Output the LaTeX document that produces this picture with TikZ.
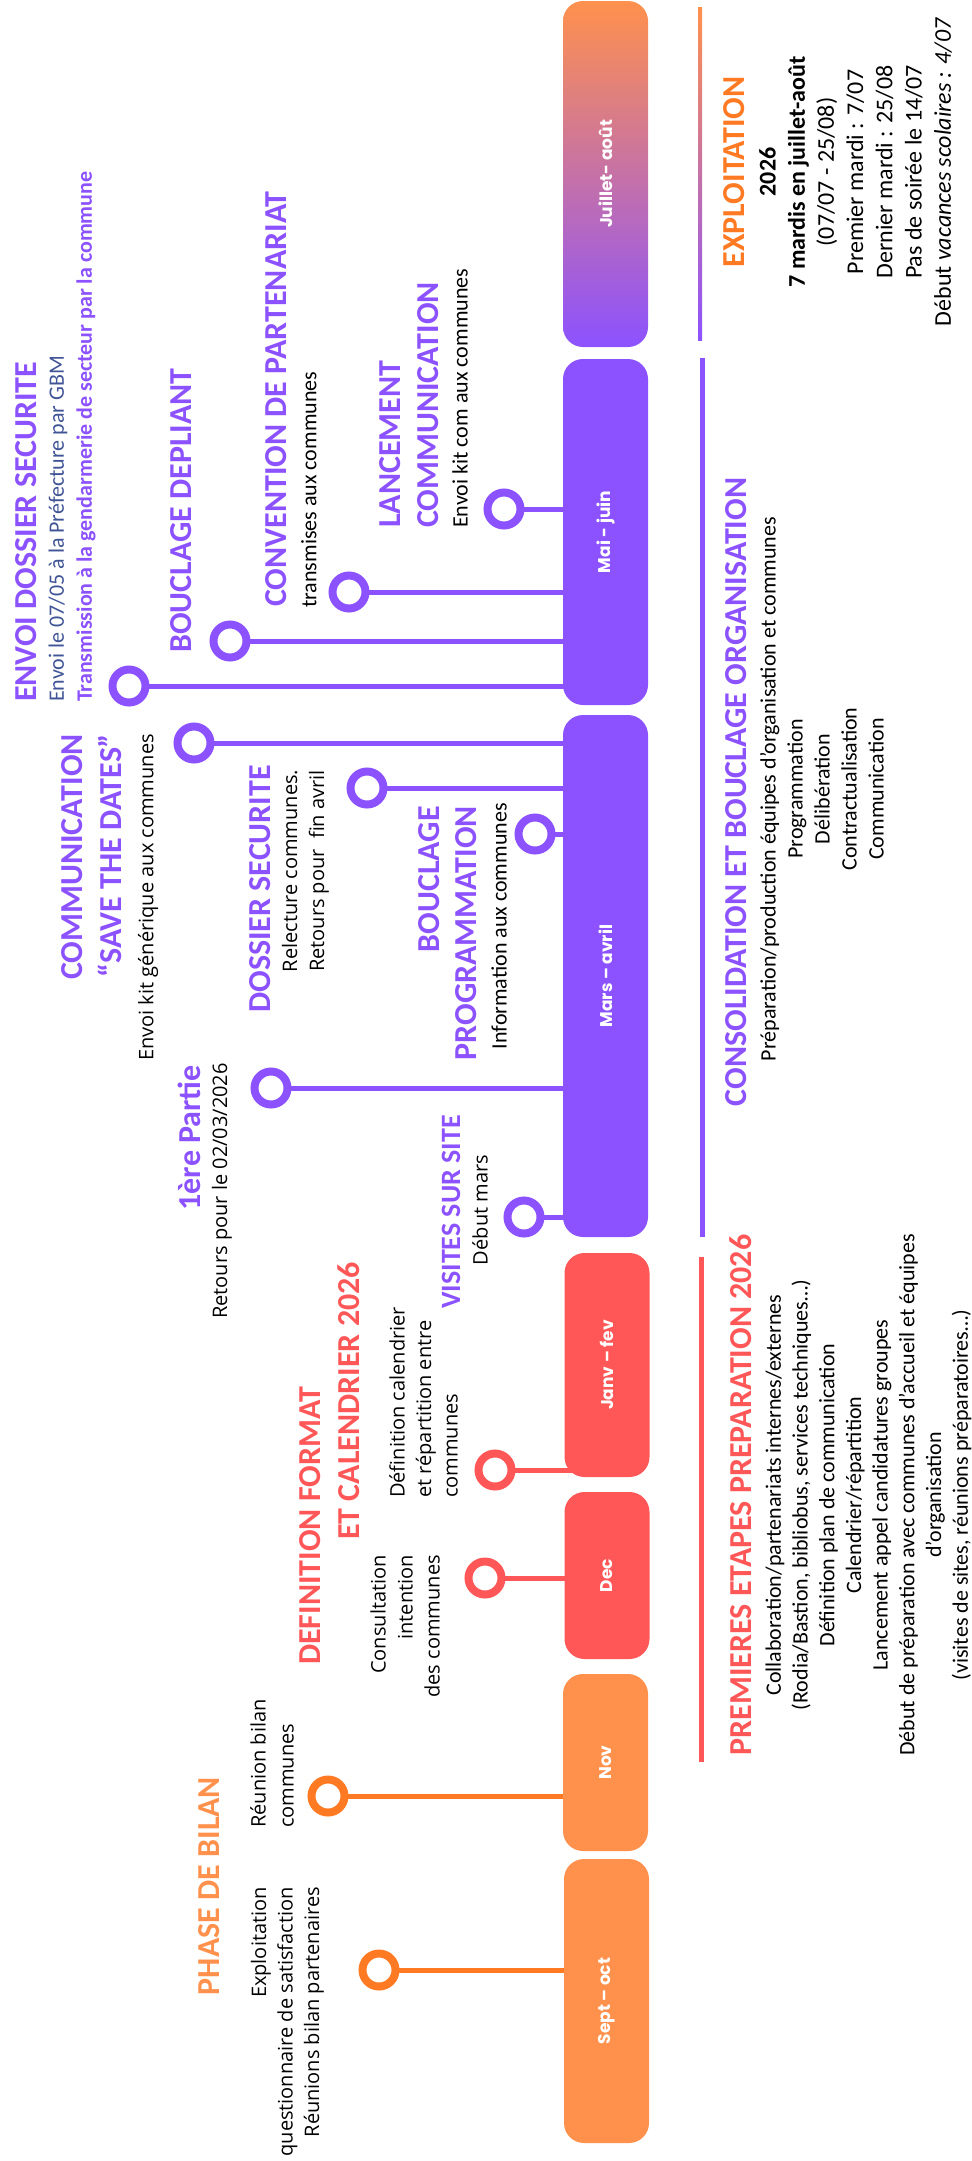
\documentclass[tikz,border=0pt]{standalone}
\usepackage{fontspec}
\setmainfont{Carlito}
\newfontfamily\osans{Open Sans}
\newfontfamily\pop{Poppins}
\usetikzlibrary{backgrounds}
\definecolor{mauve}{RGB}{140, 82, 255}
\definecolor{rouge}{RGB}{255, 87, 87}
\definecolor{orangebar}{RGB}{255, 145, 77}
\definecolor{orangevif}{RGB}{255, 122, 34}
\definecolor{ardoise}{RGB}{64, 84, 150}

\begin{document}
\begin{tikzpicture}[x=1pt, y=-1pt,
    txt/.style={rotate=90, inner sep=0pt},
    titre/.style={txt, font=\bfseries\fontsize{32}{38}\selectfont},
    corps/.style={txt, font=\fontsize{22}{27}\selectfont},
    corpsos/.style={txt, font=\osans\fontsize{20}{27}\selectfont},
    bar/.style={rectangle, rounded corners=20pt, minimum width=85pt, inner sep=0pt,
                text=white, font=\pop\bfseries\fontsize{17}{17}\selectfont},
    ring/.style={circle, line width=8pt, fill=white, minimum size=33pt, inner sep=0pt},
    stem/.style={line width=5pt}]
  \useasboundingbox (0, 0) rectangle (972, 2161);

  % Month bars
  \node[bar, minimum height=346pt, top color=orangebar, bottom color=mauve] (juilaout) at (605.5, 174) {\rotatebox{90}{Juillet- août}};
  \node[bar, minimum height=346pt, fill=mauve] (maijuin) at (605.5, 532) {\rotatebox{90}{Mai - juin}};
  \node[bar, minimum height=522pt, fill=mauve] (marsavril) at (605.5, 976) {\rotatebox{90}{Mars – avril}};
  \node[bar, minimum height=224pt, fill=rouge] (janvfev) at (607, 1365) {\rotatebox{90}{Janv – fev}};
  \node[bar, minimum height=167pt, fill=rouge] (dec) at (607, 1575.5) {\rotatebox{90}{Dec}};
  \node[bar, minimum height=177pt, fill=orangebar] (nov) at (605.5, 1762.5) {\rotatebox{90}{Nov}};
  \node[bar, minimum height=284pt, fill=orangebar] (septoct) at (606.5, 2001) {\rotatebox{90}{Sept – oct}};

  % Phase lines on the right
  \shade[top color=orangebar, bottom color=mauve] (698, 7) rectangle (702, 340);
  \draw[mauve, line width=5pt] (702, 358) -- (702, 1237);
  \draw[rouge, line width=5pt] (701, 1257) -- (701, 1762);

  % Rings and stems
  \foreach \r/\rx/\ry/\b/\c in {oenvoi/129/686/maijuin/mauve, odepliant/230/641/maijuin/mauve,
      oconv/349/592/maijuin/mauve, olanc/504/509/maijuin/mauve,
      osave/194/743/marsavril/mauve, odossier/367/788/marsavril/mauve,
      oprog/535/834/marsavril/mauve, opartie/271/1088/marsavril/mauve,
      ovisites/524/1217/marsavril/mauve, ojanv/495/1470/janvfev/rouge,
      odec/485/1578/dec/rouge, onov/328/1796/nov/orangevif, osept/379/1970/septoct/orangevif} {
    \node[ring, draw=\c] (\r) at (\rx, \ry) {};
    \begin{scope}[on background layer]
      \draw[stem, \c] (\r.center) -- (\r -| \b.center);
    \end{scope}
  }

  % Exploitation
  \node[titre, orangevif] (exptitre) at (734, 172) {EXPLOITATION};
  \node[txt, align=center, font=\fontsize{24}{29.2}\selectfont] (exptexte) at (855.5, 172)
    {\textbf{2026}\\\textbf{7 mardis en juillet-août}\\(07/07 - 25/08)\\Premier mardi : 7/07\\Dernier mardi : 25/08\\Pas de soirée le 14/07\\Début \textit{vacances scolaires : 4/07}};

  % Consolidation
  \node[titre, mauve] (consoltitre) at (736, 792) {CONSOLIDATION ET BOUCLAGE ORGANISATION};
  \node[corps, align=center] (consoltexte) at (822, 789)
    {Préparation/production équipes d’organisation et communes\\Programmation\\Délibération\\Contractualisation\\Communication};

  % Premieres etapes
  \node[titre, rouge] (premtitre) at (741, 1495) {PREMIERES ETAPES PREPARATION 2026};
  \node[corps, align=center, font=\fontsize{22}{26.7}\selectfont] (premtexte) at (868.5, 1495)
    {Collaboration/partenariats internes/externes\\(Rodia/Bastion, bibliobus, services techniques…)\\Définition plan de communication\\Calendrier/répartition\\Lancement appel candidatures groupes\\Début de préparation avec communes d’accueil et équipes\\d’organisation\\(visites de sites, réunions préparatoires…)};

  % Mai - juin
  \node[titre, mauve, anchor=west] (envoititre) at (26, 702) {ENVOI DOSSIER SECURITE};
  \node[corps, align=left, anchor=west, font=\fontsize{22}{28}\selectfont] (envoitexte) at (72, 702)
    {\textcolor{ardoise}{Envoi le 07/05 à la Préfecture par GBM}\\\textcolor{mauve}{\bfseries Transmission à la gendarmerie de secteur par la commune}};
  \node[titre, mauve, anchor=west] (depliant) at (181, 653) {BOUCLAGE DEPLIANT};
  \node[titre, mauve, anchor=west] (convtitre) at (276, 607) {CONVENTION DE PARTENARIAT};
  \node[corps, anchor=west] (convtexte) at (309, 608) {transmises aux communes};
  \node[titre, mauve, align=left, anchor=west] (lanctitre) at (409, 528) {LANCEMENT\\COMMUNICATION};
  \node[corps, anchor=west] (lanctexte) at (460, 528) {Envoi kit com aux communes};

  % Mars - avril
  \node[titre, mauve, align=right, anchor=east, font=\bfseries\fontsize{32}{39}\selectfont] (savetitre) at (91.5, 734)
    {COMMUNICATION\\“SAVE THE DATES”};
  \node[corpsos, anchor=east] (savetexte) at (148, 734) {Envoi kit générique aux communes};
  \node[titre, mauve, anchor=east] (dossiertitre) at (260, 765) {DOSSIER SECURITE};
  \node[corpsos, align=center] (dossiertexte) at (305.5, 871) {Relecture communes.\\Retours pour\ \ fin avril};
  \node[titre, mauve, align=right, anchor=east, font=\bfseries\fontsize{32}{37}\selectfont] (progtitre) at (447.5, 806)
    {BOUCLAGE\\PROGRAMMATION};
  \node[corps, anchor=east] (progtexte) at (499, 803) {Information aux communes};
  \node[titre, mauve, anchor=east] (partietitre) at (189, 1065) {1ère Partie};
  \node[corpsos, anchor=east] (partietexte) at (222, 1063) {Retours pour le 02/03/2026};
  \node[titre, mauve, font=\bfseries\fontsize{28}{32}\selectfont] (visitestitre) at (451, 1212) {VISITES SUR SITE};
  \node[corpsos] (visitestexte) at (480, 1210) {Début mars};

  % Dec - janv
  \node[titre, rouge, anchor=west] (deftitre) at (310, 1665) {DEFINITION FORMAT};
  \node[titre, rouge, anchor=west] (caltitre) at (349, 1540) {ET CALENDRIER 2026};
  \node[corpsos, align=left, anchor=west, font=\osans\fontsize{20}{26.5}\selectfont] (deftexte) at (423.5, 1498)
    {Définition calendrier\\et répartition entre\\communes};
  \node[corpsos, align=right, anchor=east] (consulttexte) at (405, 1555) {Consultation\\intention\\des communes};

  % Bilan
  \node[titre, orangebar] (bilantitre) at (209, 1886) {PHASE DE BILAN};
  \node[corpsos, align=left, anchor=west, font=\osans\fontsize{20}{28}\selectfont] (novtexte) at (272, 1828)
    {Réunion bilan\\communes};
  \node[corpsos, align=right, anchor=east, font=\osans\fontsize{20}{26.5}\selectfont] (septtexte) at (287.5, 1887)
    {Exploitation\\questionnaire de satisfaction\\Réunions bilan partenaires};
\end{tikzpicture}
\end{document}
